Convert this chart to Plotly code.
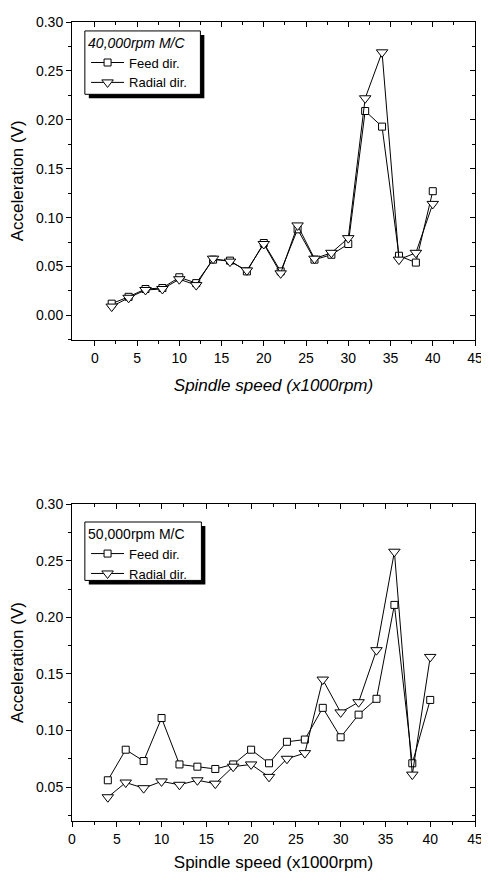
import plotly.graph_objects as go

# spindle speed (x1000 rpm)
speed_40k = [2, 4, 6, 8, 10, 12, 14, 16, 18, 20, 22, 24, 26, 28, 30, 32, 34, 36, 38, 40]
feed_40k = [0.012, 0.019, 0.027, 0.028, 0.039, 0.033, 0.057, 0.056, 0.045, 0.074,
            0.045, 0.088, 0.057, 0.062, 0.073, 0.209, 0.193, 0.061, 0.054, 0.127]
radial_40k = [0.009, 0.018, 0.026, 0.027, 0.037, 0.031, 0.058, 0.055, 0.046, 0.073,
              0.043, 0.092, 0.058, 0.064, 0.079, 0.222, 0.269, 0.057, 0.064, 0.114]

speed_50k = [4, 6, 8, 10, 12, 14, 16, 18, 20, 22, 24, 26, 28, 30, 32, 34, 36, 38, 40]
feed_50k = [0.056, 0.083, 0.073, 0.111, 0.070, 0.068, 0.066, 0.070, 0.083, 0.071,
            0.090, 0.092, 0.120, 0.094, 0.114, 0.128, 0.211, 0.071, 0.127]
radial_50k = [0.041, 0.054, 0.049, 0.055, 0.052, 0.056, 0.053, 0.068, 0.070, 0.059,
              0.075, 0.080, 0.145, 0.116, 0.125, 0.171, 0.258, 0.061, 0.165]

FONT = "Liberation Sans, Arial, sans-serif"
# page body adds an 8px margin, so the figure is a bit smaller than the window
W, H = 481, 873
ML, MR, MT, MB = 64, 9, 6, 60
top_dom = [0.6022, 1.0]
bot_dom = [0.0, 0.3965]

fig = go.Figure()

def add_series(x, y, name, symbol, size, xa, ya, legend):
    fig.add_trace(go.Scatter(
        x=x, y=y, name=name, mode='lines+markers',
        line=dict(color='black', width=1),
        marker=dict(symbol=symbol, size=size, color='white',
                    line=dict(color='black', width=1)),
        xaxis=xa, yaxis=ya, legend=legend))

add_series(speed_40k, feed_40k, 'Feed dir.', 'square', 7, 'x', 'y', 'legend')
add_series(speed_40k, radial_40k, 'Radial dir.', 'triangle-down', 10, 'x', 'y', 'legend')
add_series(speed_50k, feed_50k, 'Feed dir.', 'square', 7, 'x2', 'y2', 'legend2')
add_series(speed_50k, radial_50k, 'Radial dir.', 'triangle-down', 10, 'x2', 'y2', 'legend2')

tickfont = dict(family=FONT, size=14, color='black')
titlefont = dict(family=FONT, size=17, color='black')
xticks = [0, 5, 10, 15, 20, 25, 30, 35, 40, 45]
xminor = [2.5, 7.5, 12.5, 17.5, 22.5, 27.5, 32.5, 37.5, 42.5]

def main_x(rng, dom_anchor, italic, standoff):
    f = dict(titlefont)
    if italic:
        f['style'] = 'italic'
    return dict(range=rng, anchor=dom_anchor, domain=[0, 1],
                tickvals=xticks,
                ticks='outside', ticklen=5, tickwidth=1, tickcolor='black',
                minor=dict(tickvals=xminor, ticks='outside', ticklen=3, tickcolor='black'),
                showline=True, linecolor='black', linewidth=1, mirror=True,
                showgrid=False, zeroline=False, tickfont=tickfont,
                title=dict(text='Spindle speed (x1000rpm)', font=f, standoff=standoff))

def main_y(rng, dom, dom_anchor, tv, mv):
    return dict(range=rng, domain=dom, anchor=dom_anchor,
                tickvals=tv, tickformat='.2f',
                ticks='outside', ticklen=5, tickwidth=1, tickcolor='black',
                minor=dict(tickvals=mv, ticks='outside', ticklen=3, tickcolor='black'),
                showline=True, linecolor='black', linewidth=1, mirror=True,
                showgrid=False, zeroline=False, tickfont=tickfont,
                title=dict(text='Acceleration (V)', font=titlefont, standoff=8))

def mirror_x(rng, over, anchor):
    return dict(range=rng, overlaying=over, anchor=anchor, side='top',
                tickvals=xticks, ticks='inside', ticklen=5, tickcolor='black',
                showticklabels=False,
                minor=dict(tickvals=xminor, ticks='inside', ticklen=3, tickcolor='black'),
                showgrid=False, zeroline=False, showline=False)

def mirror_y(rng, over, anchor, tv, mv):
    return dict(range=rng, overlaying=over, anchor=anchor, side='right',
                tickvals=tv, ticks='inside', ticklen=5, tickcolor='black',
                showticklabels=False,
                minor=dict(tickvals=mv, ticks='inside', ticklen=3, tickcolor='black'),
                showgrid=False, zeroline=False, showline=False)

xr1 = [-2.7, 45]
yr1 = [-0.025, 0.30]
xr2 = [0, 45]
yr2 = [0.02, 0.30]
tv1 = [0.0, 0.05, 0.10, 0.15, 0.20, 0.25, 0.30]
mv1 = [-0.025, 0.025, 0.075, 0.125, 0.175, 0.225, 0.275]
tv2 = [0.05, 0.10, 0.15, 0.20, 0.25, 0.30]
mv2 = [0.025, 0.075, 0.125, 0.175, 0.225, 0.275]

# legend text sits on a hand-drawn box with a drop shadow
legend_common = dict(bgcolor='rgba(0,0,0,0)', borderwidth=0,
                     font=dict(family=FONT, size=13, color='black'),
                     xanchor='left', yanchor='top', tracegroupgap=0,
                     itemwidth=33, traceorder='normal')

# legend boxes in paper fractions (x0, x1, ytop, ybottom)
leg1 = (0.0319, 0.3186, 0.9888, 0.9095)
leg2 = (0.0319, 0.3211, 0.3742, 0.3011)
DX, DY = 4 / 408, 4 / 807

def box_shapes(box):
    shadow = dict(type='rect', xref='paper', yref='paper',
                  x0=box[0] + DX, x1=box[1] + DX, y0=box[3] - DY, y1=box[2] - DY,
                  fillcolor='black', line=dict(width=0), layer='above')
    frame = dict(type='rect', xref='paper', yref='paper',
                 x0=box[0], x1=box[1], y0=box[3], y1=box[2],
                 fillcolor='white', line=dict(color='black', width=1), layer='above')
    return [shadow, frame]

fig.update_layout(
    width=W, height=H,
    margin=dict(l=ML, r=MR, t=MT, b=MB),
    paper_bgcolor='white', plot_bgcolor='white',
    xaxis=main_x(xr1, 'y', True, 14),
    yaxis=main_y(yr1, top_dom, 'x', tv1, mv1),
    xaxis2=main_x(xr2, 'y2', False, 10),
    yaxis2=main_y(yr2, bot_dom, 'x2', tv2, mv2),
    xaxis3=mirror_x(xr1, 'x', 'y'),
    yaxis3=mirror_y(yr1, 'y', 'x', tv1, mv1),
    xaxis4=mirror_x(xr2, 'x2', 'y2'),
    yaxis4=mirror_y(yr2, 'y2', 'x2', tv2, mv2),
    legend=dict(x=leg1[0] + 0.003, y=leg1[2] + 0.002, **legend_common,
                title=dict(text='40,000rpm M/C',
                           font=dict(family=FONT, size=14, color='black', style='italic'))),
    legend2=dict(x=leg2[0] + 0.003, y=leg2[2] + 0.002, **legend_common,
                 title=dict(text='50,000rpm M/C',
                            font=dict(family=FONT, size=14, color='black'))),
    shapes=box_shapes(leg1) + box_shapes(leg2),
    showlegend=True,
)

# dummy traces so the mirror axes render
fig.add_trace(go.Scatter(x=[None], y=[None], xaxis='x3', yaxis='y3', showlegend=False))
fig.add_trace(go.Scatter(x=[None], y=[None], xaxis='x4', yaxis='y4', showlegend=False))

fig.write_html("out.html")
